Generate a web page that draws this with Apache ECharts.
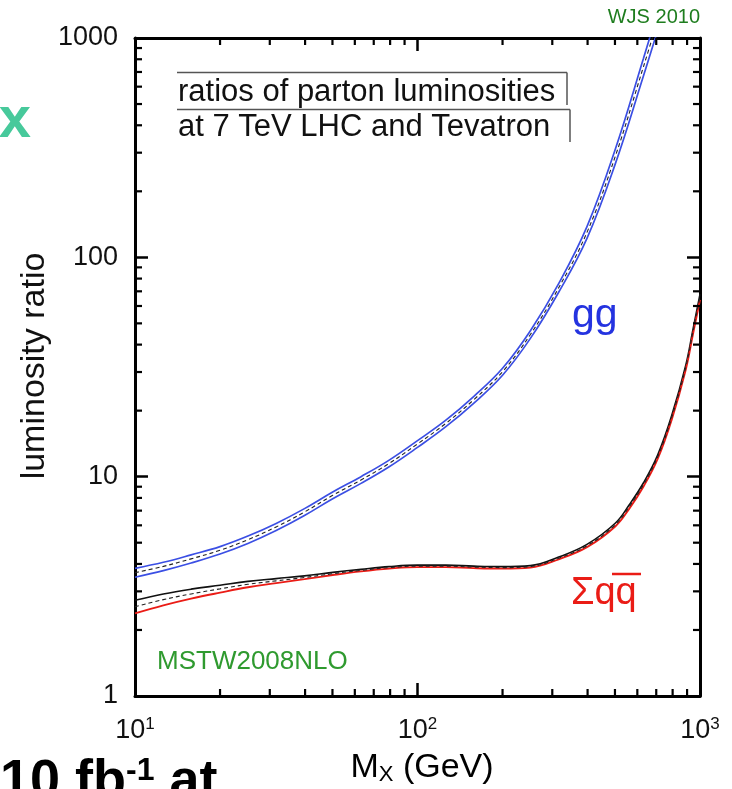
<!DOCTYPE html>
<html>
<head>
<meta charset="utf-8">
<script src="https://cdn.jsdelivr.net/npm/echarts@6/dist/echarts.min.js"></script>
<style>
html,body{margin:0;padding:0;background:#fff;}
#chart{width:732px;height:789px;}
</style>
</head>
<body>
<div id="chart"></div>
<script>
// ---- data ----
const ggMass = [10,12.6,15.8,20,25.1,31.6,39.8,50.1,63.1,79.4,100,126,158,200,251,316,398,501,631,708];
const ggCentral = [3.65,3.90,4.22,4.62,5.16,5.90,6.90,8.22,9.66,11.5,14.1,17.5,22.4,30.1,44.5,72.6,130,288,741,1202];
const ggUpper   = [3.82,4.07,4.40,4.80,5.36,6.12,7.15,8.51,10.0,11.9,14.6,18.1,23.2,31.2,46.3,75.9,138,310,809,1322];
const ggLower   = [3.48,3.73,4.04,4.44,4.96,5.68,6.65,7.93,9.32,11.1,13.6,16.9,21.6,29.0,42.7,69.3,122,266,673,1082];

const qqMass = [10,12.6,15.8,20,25.1,31.6,39.8,50.1,63.1,79.4,100,126,158,200,251,316,398,501,562,631,708,794,891,944,1000];
const qqCentral = [2.55,2.75,2.92,3.08,3.23,3.35,3.47,3.61,3.74,3.85,3.91,3.91,3.87,3.85,3.89,4.25,4.84,6.03,7.30,9.20,12.3,18.6,31.6,45.7,66.0];
const qqUpper   = [2.73,2.92,3.07,3.20,3.33,3.43,3.53,3.66,3.78,3.89,3.95,3.95,3.91,3.89,3.93,4.30,4.91,6.13,7.45,9.38,12.55,19.0,32.3,46.8,68.0];
const qqLower   = [2.38,2.59,2.78,2.96,3.13,3.27,3.41,3.56,3.70,3.81,3.87,3.87,3.83,3.81,3.85,4.20,4.77,5.93,7.15,9.02,12.05,18.2,30.9,44.6,64.0];

const xTickValues = [10,100,1000];
const xTickBase = '10';
const xTickExponents = ['1','2','3'];
const yTickValues = [1,10,100,1000];
const yTickLabels = ['1','10','100','1000'];
const xMinorTicks = [20,30,40,50,60,70,80,90,200,300,400,500,600,700,800,900];
const yMinorTicks = [2,3,4,5,6,7,8,9,20,30,40,50,60,70,80,90,200,300,400,500,600,700,800,900];

const xMin = 10, xMax = 1000, yMin = 1, yMax = 1000;

// ---- chart ----
const FONT = "'Liberation Sans', Arial, Helvetica, sans-serif";
const chart = echarts.init(document.getElementById('chart'), null, {renderer:'canvas'});

function zip(xs, ys){ return xs.map((x,i)=>[x, ys[i]]); }
function nearestIndex(arr, v){ let b=0; for(let i=0;i<arr.length;i++){ if(Math.abs(Math.log10(arr[i])-Math.log10(v))<Math.abs(Math.log10(arr[b])-Math.log10(v))) b=i; } return b; }

const axisLine = {show:true, lineStyle:{color:'#000', width:3}};
const majorTick = {show:true, inside:true, length:13, lineStyle:{color:'#000', width:2.5}};

const minorLen = 7;
const minorData = xMinorTicks.map(v=>[v, yMin, 0]).concat(yMinorTicks.map(v=>[xMin, v, 1]));

const blue = '#3b4fe4', red = '#ea1c16';

function lineSeries(name, xs, ys, color, width, type, z){
  return {name, type:'line', data: zip(xs, ys), showSymbol:false, symbol:'none', smooth:0.4,
    lineStyle:{color, width, type}, z, silent:true, animation:false};
}

const option = {
  animation:false,
  backgroundColor:'#fff',
  grid:{left:135, right:32, top:38, bottom:93, containLabel:false},
  xAxis:[
    {type:'log', logBase:10, min:xMin, max:xMax, position:'bottom',
     axisLine, axisTick:majorTick, splitLine:{show:false}, minorTick:{show:false},
     axisLabel:{margin:20, fontSize:27, fontFamily:FONT, color:'#111',
       formatter:(v)=>{ const i = nearestIndex(xTickValues, v); return '{b|'+xTickBase+'}{s|'+xTickExponents[i]+'}'; },
       rich:{b:{fontSize:27, fontFamily:FONT, color:'#111'}, s:{fontSize:17, fontFamily:FONT, color:'#111', verticalAlign:'top', padding:[0,0,12,0]}}}},
    {type:'log', logBase:10, min:xMin, max:xMax, position:'top',
     axisLine, axisTick:majorTick, axisLabel:{show:false}, splitLine:{show:false}}
  ],
  yAxis:[
    {type:'log', logBase:10, min:yMin, max:yMax, position:'left',
     axisLine, axisTick:majorTick, splitLine:{show:false},
     axisLabel:{margin:17, fontSize:27, fontFamily:FONT, color:'#111',
       formatter:(v)=> yTickLabels[nearestIndex(yTickValues, v)]}},
    {type:'log', logBase:10, min:yMin, max:yMax, position:'right',
     axisLine, axisTick:majorTick, axisLabel:{show:false}, splitLine:{show:false}}
  ],
  series:[
    lineSeries('gg upper', ggMass, ggUpper, blue, 1.7, 'solid', 3),
    lineSeries('gg lower', ggMass, ggLower, blue, 1.7, 'solid', 3),
    lineSeries('gg central', ggMass, ggCentral, '#222', 1.1, [4,3], 4),
    lineSeries('qq upper', qqMass, qqUpper, '#111', 1.6, 'solid', 3),
    lineSeries('qq lower', qqMass, qqLower, red, 1.9, 'solid', 3),
    lineSeries('qq central', qqMass, qqCentral, '#222', 1.1, [4,3], 4),
    {type:'custom', silent:true, z:10, clip:false, animation:false,
     data: minorData, encode:{x:0, y:1},
     renderItem:(params, api)=>{
       const kind = api.value(2);
       const st = {stroke:'#000', lineWidth:2.2};
       if (kind === 0){
         const v = api.value(0);
         const pb = api.coord([v, yMin]), pt = api.coord([v, yMax]);
         return {type:'group', children:[
           {type:'line', shape:{x1:pb[0], y1:pb[1], x2:pb[0], y2:pb[1]-minorLen}, style:st},
           {type:'line', shape:{x1:pt[0], y1:pt[1], x2:pt[0], y2:pt[1]+minorLen}, style:st}
         ]};
       } else {
         const v = api.value(1);
         const pl = api.coord([xMin, v]), pr = api.coord([xMax, v]);
         return {type:'group', children:[
           {type:'line', shape:{x1:pl[0], y1:pl[1], x2:pl[0]+minorLen, y2:pl[1]}, style:st},
           {type:'line', shape:{x1:pr[0], y1:pr[1], x2:pr[0]-minorLen, y2:pr[1]}, style:st}
         ]};
       }
     }}
  ],
  graphic:[
    // title box
    {type:'line', shape:{x1:177, y1:72.5, x2:567, y2:72.5}, style:{stroke:'#555', lineWidth:1.5}, silent:true},
    {type:'line', shape:{x1:567, y1:72.5, x2:567, y2:105}, style:{stroke:'#555', lineWidth:1.5}, silent:true},
    {type:'line', shape:{x1:177, y1:109.5, x2:570, y2:109.5}, style:{stroke:'#555', lineWidth:1.5}, silent:true},
    {type:'line', shape:{x1:570, y1:109.5, x2:570, y2:142}, style:{stroke:'#555', lineWidth:1.5}, silent:true},
    {type:'text', x:178, y:92, style:{text:'ratios of parton luminosities', font:'31px '+FONT, fill:'#111', textVerticalAlign:'middle'}, silent:true},
    {type:'text', x:178, y:127, style:{text:'at 7 TeV LHC and Tevatron', font:'31px '+FONT, fill:'#111', textVerticalAlign:'middle'}, silent:true},
    // curve labels
    {type:'text', x:572, y:316, style:{text:'gg', font:'41px '+FONT, fill:'#2433e0', textVerticalAlign:'middle'}, silent:true},
    {type:'text', x:571, y:594, style:{text:'Σqq', font:'38px '+FONT, fill:red, textVerticalAlign:'middle'}, silent:true},
    {type:'line', shape:{x1:612, y1:574, x2:641, y2:574}, style:{stroke:red, lineWidth:2.5}, silent:true},
    // other annotations
    {type:'text', x:157, y:662, style:{text:'MSTW2008NLO', font:'26px '+FONT, fill:'#2f9a2f', textVerticalAlign:'middle'}, silent:true},
    {type:'text', x:700, y:17, style:{text:'WJS 2010', font:'20px '+FONT, fill:'#1e7d1e', textAlign:'right', textVerticalAlign:'middle'}, silent:true},
    {type:'text', x:31, y:121, style:{text:'x', font:'bold 58px '+FONT, fill:'#47c99b', textAlign:'right', textVerticalAlign:'middle'}, silent:true},
    {type:'text', x:35, y:366, rotation:Math.PI/2, style:{text:'luminosity ratio', font:'34px '+FONT, fill:'#111', textAlign:'center', textVerticalAlign:'middle'}, silent:true},
    {type:'text', x:422, y:768, style:{text:'{m|M}{s|X}{m| (GeV)}', textAlign:'center', textVerticalAlign:'middle',
      rich:{m:{fontSize:34, fontFamily:FONT, color:'#111'}, s:{fontSize:22, fontFamily:FONT, color:'#111', verticalAlign:'bottom', padding:[14,0,0,0]}}}, silent:true},
    {type:'text', x:0, y:755, style:{text:'{b|10 fb}{s|-1}{b| at}', textVerticalAlign:'top',
      rich:{b:{fontSize:54, fontWeight:'bold', fontFamily:FONT, color:'#000'}, s:{fontSize:32, fontWeight:'bold', fontFamily:FONT, color:'#000', verticalAlign:'top'}}}, silent:true}
  ]
};
chart.setOption(option);
</script>
</body>
</html>
